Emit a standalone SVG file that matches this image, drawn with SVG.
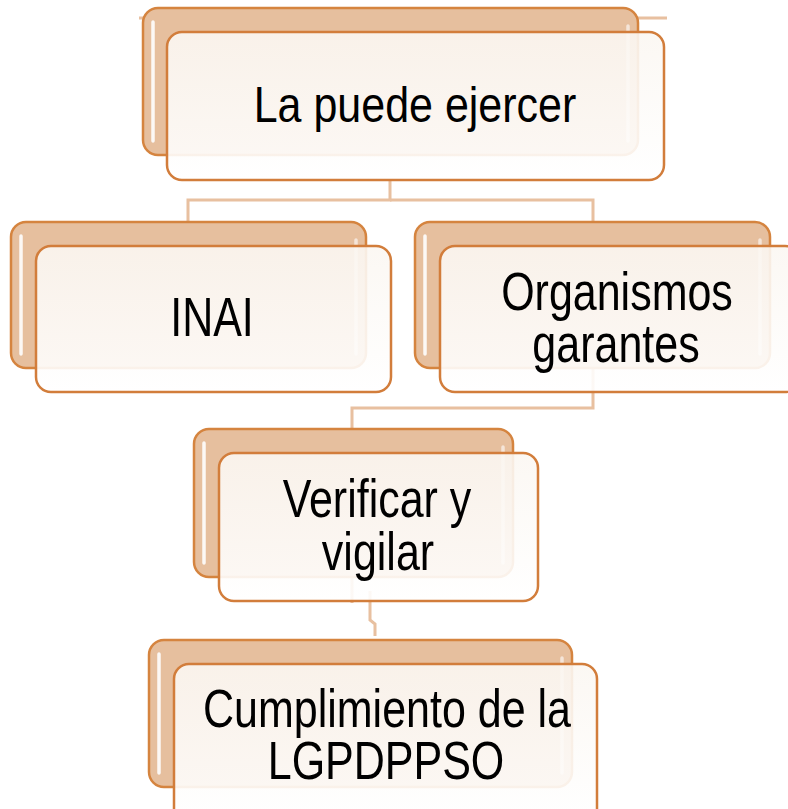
<svg xmlns="http://www.w3.org/2000/svg" width="788" height="809" viewBox="0 0 788 809">
<defs>
<linearGradient id="fg" x1="0" y1="0" x2="0" y2="1">
<stop offset="0" stop-color="#FBF7F2"/>
<stop offset="1" stop-color="#FFFFFF"/>
</linearGradient>
</defs>
<style>
.back{fill:#E6BF9E;stroke:#D5843F;stroke-width:2.5}
.front{fill:url(#fg);fill-opacity:0.9;stroke:#D27D3B;stroke-width:2.5}
.hl{stroke:#FFFFFF;stroke-width:3.5;stroke-linecap:round;opacity:0.9}
.hr{stroke:#FFFFFF;stroke-width:3.5;stroke-linecap:round;opacity:0.6}
.conn{fill:none;stroke:#E8C0A0;stroke-width:3}
.t{font-family:"Liberation Sans",Arial,sans-serif;font-size:43px;fill:#000;text-anchor:middle}
</style>
<rect width="788" height="809" fill="#FFFFFF"/>
<g id="connectors">
<line class="conn" x1="139" y1="18" x2="667" y2="18"/>
<polyline class="conn" points="390,180 390,200 188,200 188,222"/>
<polyline class="conn" points="390,200 593,200 593,408 352,408 352,603"/>
<polyline class="conn" points="370,591 370,620 375,624 375,636"/>
</g>
<g id="node-top">
<rect class="back" x="143" y="8" width="495" height="147" rx="15"/>
<line class="hl" x1="153" y1="22" x2="153" y2="141"/>
<line class="hr" x1="628" y1="26" x2="628" y2="141"/>
<rect class="front" x="167" y="32" width="497" height="148" rx="15"/>
<text class="t" transform="translate(415,122) scale(1,1.17)">La puede ejercer</text>
</g>
<g id="node-inai">
<rect class="back" x="11" y="222" width="355" height="146" rx="15"/>
<line class="hl" x1="21" y1="236" x2="21" y2="354"/>
<line class="hr" x1="356" y1="240" x2="356" y2="354"/>
<rect class="front" x="36" y="246" width="355" height="146" rx="15"/>
<text class="t" transform="translate(212,336) scale(1,1.27)">INAI</text>
</g>
<g id="node-organismos">
<rect class="back" x="415" y="222" width="355" height="146" rx="15"/>
<line class="hl" x1="425" y1="236" x2="425" y2="354"/>
<line class="hr" x1="760" y1="240" x2="760" y2="354"/>
<rect class="front" x="440" y="246" width="360" height="146" rx="15"/>
<text class="t" transform="translate(617,310) scale(1,1.25)">Organismos</text>
<text class="t" transform="translate(616,362) scale(1,1.25)">garantes</text>
</g>
<g id="node-verificar">
<rect class="back" x="194" y="429" width="319" height="148" rx="15"/>
<line class="hl" x1="204" y1="443" x2="204" y2="563"/>
<line class="hr" x1="503" y1="447" x2="503" y2="563"/>
<rect class="front" x="219" y="453" width="319" height="148" rx="15"/>
<text class="t" transform="translate(377,517) scale(1,1.25)">Verificar y</text>
<text class="t" transform="translate(378,570) scale(1,1.25)">vigilar</text>
</g>
<g id="node-cumplimiento">
<rect class="back" x="149" y="640" width="423" height="147" rx="15"/>
<line class="hl" x1="159" y1="654" x2="159" y2="773"/>
<line class="hr" x1="562" y1="658" x2="562" y2="773"/>
<rect class="front" x="174" y="664" width="423" height="160" rx="15"/>
<text class="t" transform="translate(387,727) scale(1,1.25)">Cumplimiento de la</text>
<text class="t" transform="translate(386,779) scale(1,1.25)">LGPDPPSO</text>
</g>
</svg>
